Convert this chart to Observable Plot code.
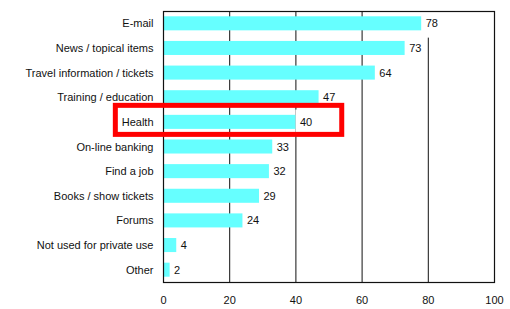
<!DOCTYPE html>
<html>
<head>
<meta charset="utf-8">
<script src="https://cdn.jsdelivr.net/npm/d3@7"></script>
<script src="https://cdn.jsdelivr.net/npm/@observablehq/plot@0.6"></script>
<style>
  html, body { margin: 0; padding: 0; background: #fff; }
  #chart svg { display: block; }
</style>
</head>
<body>
<div id="chart"></div>
<script>
const categories = [
  "E-mail",
  "News / topical items",
  "Travel information / tickets",
  "Training / education",
  "Health",
  "On-line banking",
  "Find a job",
  "Books / show tickets",
  "Forums",
  "Not used for private use",
  "Other"
];
const values = [78, 73, 64, 47, 40, 33, 32, 29, 24, 4, 2];
const xTicks = [0, 20, 40, 60, 80, 100];
const gridTicks = [20, 40, 60, 80];
const highlighted = ["Health"];

const data = categories.map((c, i) => ({category: c, value: values[i]}));
const hi = data.filter(d => highlighted.includes(d.category));

const chart = Plot.plot({
  width: 510,
  height: 309,
  marginLeft: 163,
  marginRight: 16,
  marginTop: 11,
  marginBottom: 27,
  style: {fontFamily: "'Liberation Sans', Arial, sans-serif", fontSize: "11px", color: "#111", background: "#fff"},
  x: {domain: [0, 100], ticks: xTicks, tickSize: 0, tickPadding: 14, label: null},
  y: {domain: categories, padding: 0, round: false, tickSize: 0, tickPadding: 10, label: null},
  marks: [
    Plot.ruleX(gridTicks, {stroke: "#111", strokeWidth: 1, strokeOpacity: 1}),
    Plot.barX(data, {x1: "value", x2: d => d.value + 6, y: "category", fill: "#fff", insetBottom: -2}),
    Plot.barX(data, {x: "value", y: "category", fill: "#66ffff", insetTop: 5.3, insetBottom: 5.3}),
    Plot.text(data, {x: "value", y: "category", text: d => String(d.value), textAnchor: "start", dx: 4, fill: "#111", fontSize: 11}),
    Plot.frame({stroke: "#111", strokeWidth: 1.2}),
    Plot.barX(hi, {x1: -14.4, x2: 54, y: "category", fill: "none", stroke: "#ff0000", strokeWidth: 5, insetTop: -4.2, insetBottom: -0.2})
  ]
});
document.getElementById("chart").appendChild(chart);
</script>
</body>
</html>
